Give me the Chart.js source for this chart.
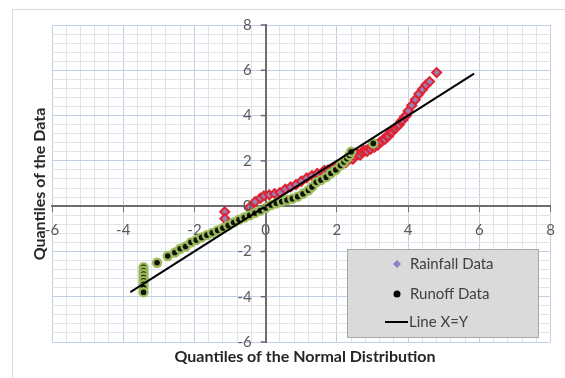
<!DOCTYPE html>
<html>
<head>
<meta charset="utf-8">
<script src="https://cdn.jsdelivr.net/npm/chart.js@4.4.1/dist/chart.umd.min.js"></script>
<style>
  html, body { margin: 0; padding: 0; background: #ffffff; }
  canvas { display: block; }
</style>
</head>
<body>
<canvas id="qq" width="565" height="378"></canvas>
<script>
// Rainfall data (x: normal quantile, y: data quantile)
const rainX = [-1.15, -1.15, -0.45, -0.3, -0.15, -0.05, 0.1, 0.25, 0.4, 0.55, 0.7, 0.85, 1.0, 1.15, 1.3, 1.45,
  1.6, 1.65, 1.75, 1.85, 1.9, 2.0, 2.05, 2.1, 2.2, 2.25, 2.3, 2.4, 2.45, 2.5, 2.55, 2.6, 2.65, 2.7, 2.75, 2.8,
  2.85, 2.9, 2.95, 3.0, 3.05, 3.1, 3.15, 3.2, 3.25, 3.3, 3.35, 3.4, 3.45, 3.5, 3.55, 3.6, 3.65, 3.7, 3.75,
  3.8, 3.85, 3.9, 3.95, 4.0, 4.1, 4.2, 4.3, 4.4, 4.5, 4.6, 4.8];
const rainY = [-0.25, -0.55, -0.05, 0.2, 0.35, 0.45, 0.5, 0.55, 0.6, 0.75, 0.85, 0.95, 1.1, 1.25, 1.35, 1.45,
  1.5, 1.58, 1.6, 1.65, 1.7, 1.78, 1.75, 1.85, 1.95, 1.92, 2.05, 2.12, 2.08, 2.2, 2.3, 2.3, 2.25, 2.38, 2.45, 2.45,
  2.42, 2.55, 2.52, 2.62, 2.6, 2.72, 2.7, 2.82, 2.85, 2.95, 2.95, 3.08, 3.1, 3.25, 3.28, 3.4, 3.45, 3.55, 3.6,
  3.75, 3.8, 3.95, 4.0, 4.2, 4.45, 4.7, 4.95, 5.15, 5.35, 5.5, 5.9];

// Runoff data
const runX = [-3.43, -3.43, -3.43, -3.43, -3.43, -3.43, -3.43, -3.43,
  -3.05, -2.75, -2.55, -2.4, -2.25, -2.1, -1.95, -1.8, -1.65, -1.5, -1.35, -1.2, -1.05, -0.9, -0.75, -0.6,
  -0.45, -0.3, -0.15, 0.0, 0.15, 0.3, 0.45, 0.6, 0.75, 0.9, 1.05, 1.2, 1.3, 1.42, 1.55, 1.7, 1.83, 1.97,
  2.1, 2.2, 2.28, 2.35, 2.4, 3.02];
const runY = [-2.7, -2.85, -3.0, -3.15, -3.3, -3.45, -3.6, -3.8,
  -2.5, -2.2, -2.05, -1.88, -1.78, -1.6, -1.5, -1.38, -1.28, -1.18, -1.07, -0.97, -0.85, -0.72, -0.6, -0.5,
  -0.4, -0.3, -0.2, -0.08, 0.05, 0.13, 0.2, 0.27, 0.33, 0.42, 0.55, 0.7, 0.85, 1.05, 1.15, 1.28, 1.45, 1.6,
  1.8, 1.95, 2.1, 2.25, 2.4, 2.77];

// Line X=Y end points
const lineX = [-3.8, 5.85];

// axis ranges and labelled ticks
const xMin = -6, xMax = 8;
const yMin = -6, yMax = 8;
const yTickLabels = [8, 6, 4, 2, 0, -2, -4, -6];
const majorStep = 2;
const minorStep = 0.4;

const toPoints = (xs, ys) => xs.map((x, i) => ({ x: x, y: ys[i] }));

function isMajor(v) {
    return Math.abs(v / majorStep - Math.round(v / majorStep)) < 1e-6;
}

Chart.defaults.font.family = 'Lato, "Open Sans", sans-serif';

// frame, y tick labels, axis titles and the legend box
const decorPlugin = {
    id: 'decor',
    beforeDraw(chart) {
        const ctx = chart.ctx;
        ctx.save();
        ctx.fillStyle = '#ffffff';
        ctx.fillRect(0, 0, chart.width, chart.height);
        ctx.strokeStyle = '#d9d9d9';
        ctx.lineWidth = 1;
        ctx.strokeRect(12.5, 9.5, chart.width, chart.height);
        ctx.restore();
    },
    afterDatasetsDraw(chart) {
        // y axis labels sit left of the axis line
        const ctx = chart.ctx;
        const xs = chart.scales.x, ys = chart.scales.y;
        const ax = xs.getPixelForValue(0);
        ctx.save();
        ctx.strokeStyle = '#6d6d6d';
        ctx.lineWidth = 1.5;
        ctx.fillStyle = '#595959';
        ctx.font = '15px Lato, sans-serif';
        ctx.textAlign = 'right';
        ctx.textBaseline = 'middle';
        yTickLabels.forEach(v => {
            const py = ys.getPixelForValue(v);
            ctx.beginPath();
            ctx.moveTo(ax - 5, py);
            ctx.lineTo(ax, py);
            ctx.stroke();
            ctx.fillText(String(v), ax - 14, py);
        });
        ctx.restore();
    },
    afterDraw(chart) {
        const ctx = chart.ctx;
        ctx.save();
        // axis titles
        ctx.fillStyle = '#262626';
        ctx.font = 'bold 16px Lato, sans-serif';
        ctx.textAlign = 'center';
        ctx.textBaseline = 'middle';
        ctx.fillText('Quantiles of the Normal Distribution', 305, 357);
        ctx.translate(40, 184);
        ctx.rotate(-Math.PI / 2);
        ctx.fillText('Quantiles of the Data', 0, 0);
        ctx.restore();

        // legend
        ctx.save();
        ctx.fillStyle = '#dadada';
        ctx.fillRect(347, 249, 191, 88);
        ctx.strokeStyle = '#a6a6a6';
        ctx.lineWidth = 1;
        ctx.strokeRect(347.5, 249.5, 191, 88);

        ctx.font = '15px Lato, sans-serif';
        ctx.textAlign = 'left';
        ctx.textBaseline = 'middle';

        // diamond
        ctx.fillStyle = '#8e82c0';
        ctx.beginPath();
        ctx.moveTo(397, 260);
        ctx.lineTo(401, 264);
        ctx.lineTo(397, 268);
        ctx.lineTo(393, 264);
        ctx.closePath();
        ctx.fill();
        ctx.fillStyle = '#404040';
        ctx.fillText('Rainfall Data', 410, 264);

        // circle
        ctx.fillStyle = '#000000';
        ctx.beginPath();
        ctx.arc(397, 294, 3.5, 0, Math.PI * 2);
        ctx.fill();
        ctx.fillStyle = '#404040';
        ctx.fillText('Runoff Data', 410, 294);

        // line
        ctx.strokeStyle = '#000000';
        ctx.lineWidth = 2;
        ctx.beginPath();
        ctx.moveTo(385, 322);
        ctx.lineTo(408, 322);
        ctx.stroke();
        ctx.fillText('Line X=Y', 409, 322);
        ctx.restore();
    }
};

const gridColor = (c) => {
    const v = c.tick.value;
    if (Math.abs(v) < 1e-6) return 'rgba(0,0,0,0)';
    return isMajor(v) ? '#c3d0e3' : '#e0e3e8';
};
const tickMarkColor = (c) => isMajor(c.tick.value) ? '#6d6d6d' : 'rgba(0,0,0,0)';
const tickLabel = (v) => isMajor(v) ? String(Math.round(v)) : '';

new Chart(document.getElementById('qq'), {
    type: 'scatter',
    data: {
        datasets: [
            {
                label: 'Line X=Y',
                data: lineX.map(v => ({ x: v, y: v })),
                showLine: true,
                borderColor: '#000000',
                borderWidth: 2,
                pointRadius: 0,
                order: 0
            },
            {
                label: 'Runoff Data',
                data: toPoints(runX, runY),
                pointStyle: 'circle',
                pointRadius: 4,
                backgroundColor: '#111111',
                borderColor: '#9bbb59',
                borderWidth: 2.4,
                order: 1
            },
            {
                label: 'Rainfall Data',
                data: toPoints(rainX, rainY),
                pointStyle: 'rectRot',
                pointRadius: 4.5,
                backgroundColor: '#9a7fb8',
                borderColor: '#e02230',
                borderWidth: 2,
                order: 2
            }
        ]
    },
    options: {
        responsive: false,
        animation: false,
        layout: { padding: { left: 52, top: 25, right: 7, bottom: 36 } },
        plugins: {
            legend: { display: false },
            tooltip: { enabled: false }
        },
        scales: {
            x: {
                type: 'linear',
                position: { y: 0 },
                min: xMin,
                max: xMax,
                grid: { color: gridColor, tickColor: tickMarkColor, tickLength: 5, lineWidth: 1 },
                border: { display: true, color: '#6d6d6d', width: 2 },
                ticks: {
                    stepSize: minorStep,
                    autoSkip: false,
                    maxRotation: 0,
                    padding: 10,
                    color: '#595959',
                    font: { size: 15 },
                    callback: tickLabel
                }
            },
            y: {
                type: 'linear',
                position: { x: 0 },
                min: yMin,
                max: yMax,
                grid: { color: gridColor, drawTicks: false, lineWidth: 1 },
                border: { display: true, color: '#6d6d6d', width: 2 },
                ticks: {
                    stepSize: minorStep,
                    autoSkip: false,
                    display: false
                }
            }
        }
    },
    plugins: [decorPlugin]
});
</script>
</body>
</html>
